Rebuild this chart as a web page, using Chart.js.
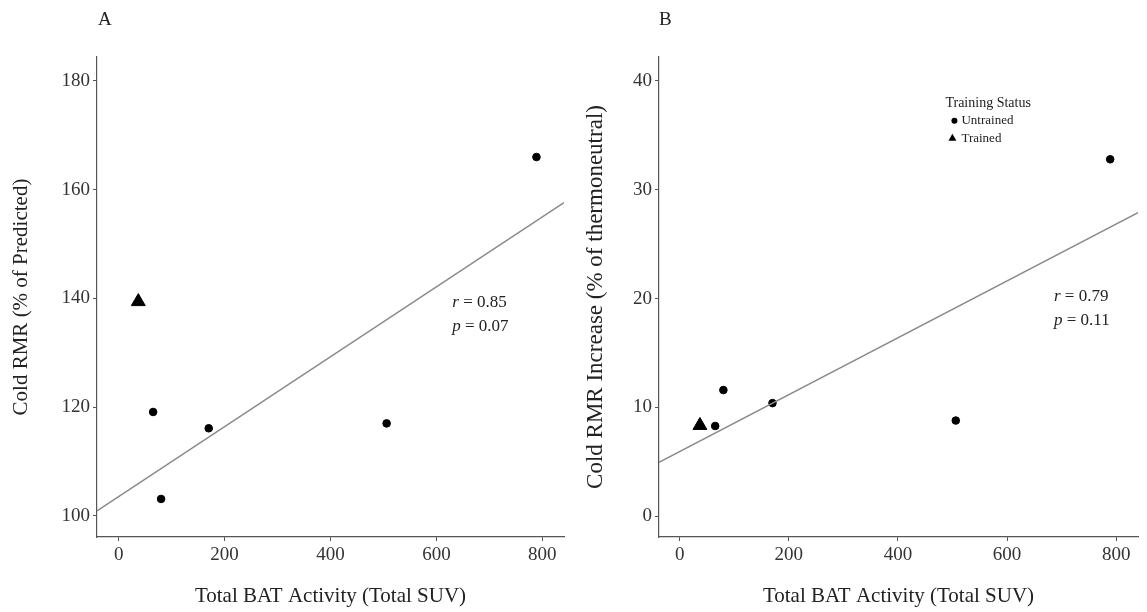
<!DOCTYPE html>
<html>
<head>
<meta charset="utf-8">
<script src="https://cdn.jsdelivr.net/npm/chart.js@4/dist/chart.umd.min.js"></script>
<style>
  body { margin: 0; background: #fff; }
  #wrap { position: relative; width: 1147px; height: 612px; }
  canvas { position: absolute; top: 0; }
  #chartA { left: 0; }
  #chartB { left: 573px; }
</style>
</head>
<body>
<div id="wrap">
  <canvas id="chartA" width="573" height="612"></canvas>
  <canvas id="chartB" width="574" height="612"></canvas>
</div>
<script>
// values
const batUntrained = [65, 80, 170, 506, 789];
const batTrained = [37];

const rmrUntrained = [119.1, 103.1, 116.1, 117.0, 166.0];
const rmrTrained = [139.4];
const fitXA = [-41, 841];
const fitYA = [100.9, 157.6];

const incUntrained = [8.3, 11.6, 10.4, 8.8, 32.8];
const incTrained = [8.35];
const fitXB = [-38, 840];
const fitYB = [4.95, 27.9];

const xTicks = [0, 200, 400, 600, 800];
const yTicksA = [100, 120, 140, 160, 180];
const yTicksB = [0, 10, 20, 30, 40];

const serif = "'Liberation Serif', 'DejaVu Serif', serif";

function toPoints(xs, ys) {
    return xs.map((x, i) => ({x: x, y: ys[i]}));
}

// text inside the plot: panel letter, r / p and the legend
const notesPlugin = {
    id: 'notes',
    afterDraw(chart, args, opts) {
        const ctx = chart.ctx;
        const xs = chart.scales.x;
        const ys = chart.scales.y;
        ctx.save();
        ctx.fillStyle = '#222';
        ctx.textBaseline = 'middle';
        ctx.font = '19px ' + serif;
        ctx.fillText(opts.letter, opts.letterX, 20);

        let px = xs.getPixelForValue(opts.statX);
        let py = ys.getPixelForValue(opts.statY);
        opts.stats.forEach((s, i) => {
            ctx.font = 'italic 17px ' + serif;
            ctx.fillText(s[0], px, py + i * 24);
            const w = ctx.measureText(s[0]).width;
            ctx.font = '17px ' + serif;
            ctx.fillText(' = ' + s[1], px + w, py + i * 24);
        });

        if (opts.legend) {
            const lx = xs.getPixelForValue(opts.legendX);
            const ly = ys.getPixelForValue(opts.legendY);
            ctx.font = '14px ' + serif;
            ctx.fillText('Training Status', lx, ly);
            ctx.font = '13px ' + serif;
            ctx.fillStyle = '#000';
            ctx.beginPath();
            ctx.arc(lx + 9, ly + 17, 3, 0, Math.PI * 2);
            ctx.fill();
            ctx.beginPath();
            ctx.moveTo(lx + 7, ly + 30);
            ctx.lineTo(lx + 11, ly + 37);
            ctx.lineTo(lx + 3, ly + 37);
            ctx.closePath();
            ctx.fill();
            ctx.fillStyle = '#222';
            ctx.fillText('Untrained', lx + 16, ly + 17);
            ctx.fillText('Trained', lx + 16, ly + 35);
        }
        ctx.restore();
    }
};

function makeChart(id, cfg) {
    return new Chart(document.getElementById(id), {
        type: 'scatter',
        data: {
            datasets: [{
                label: 'fit',
                type: 'line',
                data: toPoints(cfg.fitX, cfg.fitY),
                borderColor: '#8a8a8a',
                borderWidth: 1.5,
                pointRadius: 0,
                fill: false
            }, {
                label: 'Untrained',
                data: toPoints(batUntrained, cfg.untrained),
                pointStyle: 'circle',
                pointRadius: 3.8,
                backgroundColor: '#000',
                borderColor: '#000'
            }, {
                label: 'Trained',
                data: toPoints(batTrained, cfg.trained),
                pointStyle: 'triangle',
                pointRadius: 8,
                backgroundColor: '#000',
                borderColor: '#000'
            }]
        },
        options: {
            responsive: false,
            animation: false,
            layout: { padding: { top: 57, right: cfg.padRight, bottom: 0, left: 0 } },
            plugins: {
                legend: { display: false },
                tooltip: { enabled: false },
                notes: cfg.notes
            },
            scales: {
                x: {
                    type: 'linear',
                    min: cfg.xMin,
                    max: cfg.xMax,
                    afterBuildTicks: s => { s.ticks = xTicks.map(v => ({value: v})); },
                    afterFit: s => { s.height = 75; },
                    border: { color: '#555', width: 1.2 },
                    grid: { drawOnChartArea: false, tickLength: 4, color: '#555' },
                    ticks: { color: '#333', padding: 3, font: { family: serif, size: 19 } },
                    title: {
                        display: true,
                        text: 'Total BAT Activity (Total SUV)',
                        color: '#222',
                        font: { family: serif, size: 21 },
                        padding: { top: 0, bottom: 3 }
                    }
                },
                y: {
                    type: 'linear',
                    min: cfg.yMin,
                    max: cfg.yMax,
                    afterBuildTicks: s => { s.ticks = cfg.yTicks.map(v => ({value: v})); },
                    afterFit: s => { s.width = cfg.yWidth; },
                    border: { color: '#555', width: 1.2 },
                    grid: { drawOnChartArea: false, tickLength: 4, color: '#555' },
                    ticks: { color: '#333', padding: 3, font: { family: serif, size: 19 } },
                    title: {
                        display: true,
                        text: cfg.yTitle,
                        color: '#222',
                        font: { family: serif, size: cfg.yTitleSize },
                        padding: { top: 9, bottom: 0 }
                    }
                }
            }
        },
        plugins: [notesPlugin]
    });
}

makeChart('chartA', {
    fitX: fitXA, fitY: fitYA,
    untrained: rmrUntrained, trained: rmrTrained,
    xMin: -41, xMax: 841, yMin: 96.1, yMax: 184.4,
    yTicks: yTicksA, yWidth: 97, padRight: 5,
    yTitle: 'Cold RMR (% of Predicted)', yTitleSize: 21,
    notes: {
        letter: 'A', letterX: 98,
        statX: 630, statY: 139.2,
        stats: [['r', '0.85'], ['p', '0.07']],
        legend: false
    }
});

makeChart('chartB', {
    fitX: fitXB, fitY: fitYB,
    untrained: incUntrained, trained: incTrained,
    xMin: -38, xMax: 840, yMin: -1.9, yMax: 42.2,
    yTicks: yTicksB, yWidth: 86, padRight: 7,
    yTitle: 'Cold RMR Increase (% of thermoneutral)', yTitleSize: 23,
    notes: {
        letter: 'B', letterX: 86,
        statX: 686, statY: 20.2,
        stats: [['r', '0.79'], ['p', '0.11']],
        legend: true, legendX: 487, legendY: 37.9
    }
});
</script>
</body>
</html>
